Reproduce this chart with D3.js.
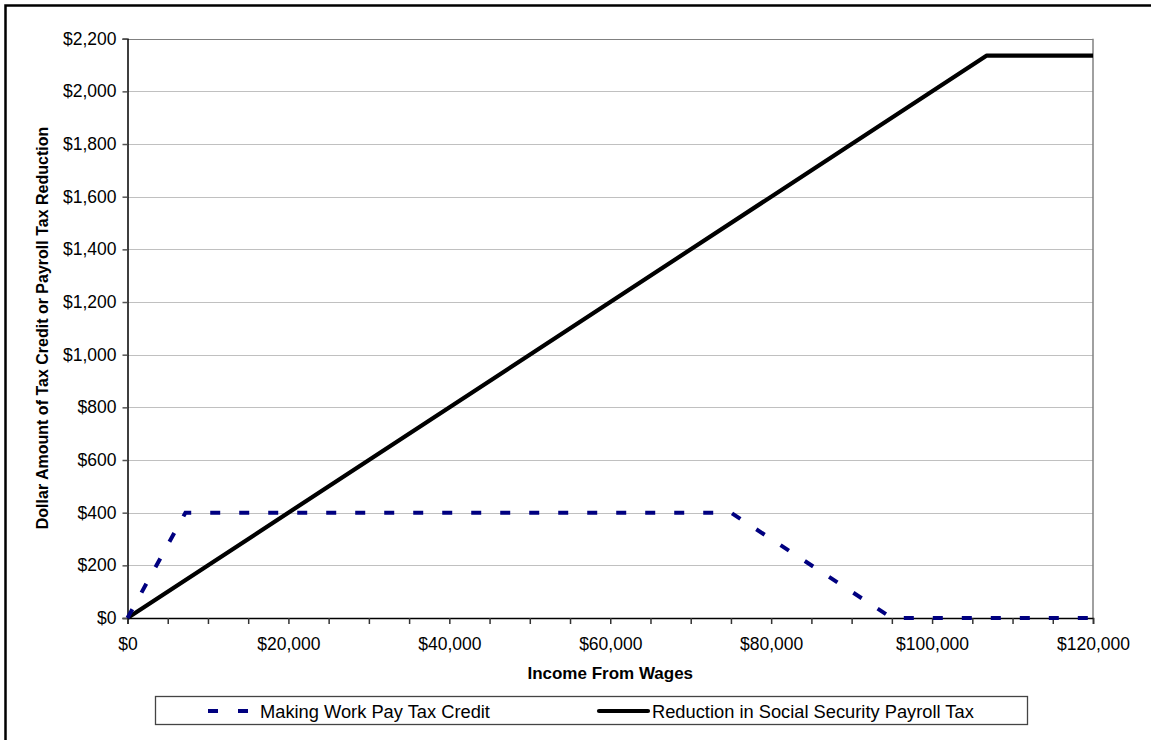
<!DOCTYPE html>
<html><head><meta charset="utf-8">
<script src="https://cdn.jsdelivr.net/npm/d3@7"></script>
<style>body{margin:0;background:#fff}svg{display:block;font-family:"Liberation Sans",Arial,sans-serif}</style>
</head><body>
<svg id="c" width="1151" height="740"></svg>
<script>
const creditIncome = [0, 7200, 75000, 95000, 120000];
const creditValue  = [0, 400, 400, 0, 0];
const payrollIncome = [0, 106800, 120000];
const payrollValue  = [0, 2136, 2136];
const xTicksMajor = [0, 20000, 40000, 60000, 80000, 100000, 120000];
const yTicks = [0, 200, 400, 600, 800, 1000, 1200, 1400, 1600, 1800, 2000, 2200];
const seriesNames = ["Making Work Pay Tax Credit", "Reduction in Social Security Payroll Tax"];

const svg = d3.select("#c");
const L = 127.5, R = 1093, T = 38.7, B = 618;
const x = d3.scaleLinear().domain([0, 120000]).range([L, R]);
const y = d3.scaleLinear().domain([0, 2200]).range([B, T]);
const fmt = d => "$" + d3.format(",")(d);
const FF = "Liberation Sans, Arial, sans-serif";

// outer frame
svg.append("path").attr("d", "M5.5,745 L5.5,5.5 L1160,5.5").attr("fill","none").attr("stroke","#000").attr("stroke-width",2.5);

// gridlines
svg.append("g").selectAll("line").data(yTicks.filter(d=>d>0)).join("line")
  .attr("x1", L).attr("x2", R).attr("y1", d=>Math.round(y(d))+0.5).attr("y2", d=>Math.round(y(d))+0.5)
  .attr("stroke", d=> d===2200 ? "#808080" : "#c0c0c0").attr("stroke-width",1.2);
// right border
svg.append("line").attr("x1",R).attr("x2",R).attr("y1",T).attr("y2",B).attr("stroke","#808080").attr("stroke-width",1.5);

// y axis
const ya = d3.axisLeft(y).tickValues(yTicks).tickFormat(fmt).tickSize(5).tickPadding(6);
const gy = svg.append("g").attr("transform", `translate(${L},0)`).call(ya);
gy.select(".domain").attr("stroke","#000").attr("stroke-width",1.5);
gy.selectAll(".tick line").attr("stroke","#555").attr("stroke-width",1.5);
gy.selectAll("text").attr("font-size",17.5).attr("fill","#000").attr("font-family",FF);

// x axis
const xa = d3.axisBottom(x).tickValues(d3.range(0, 120001, 5000)).tickFormat(d => xTicksMajor.includes(d) ? fmt(d) : "").tickSize(6).tickPadding(14);
const gx = svg.append("g").attr("transform", `translate(0,${B})`).call(xa);
gx.select(".domain").attr("stroke","#000").attr("stroke-width",1.5);
gx.selectAll(".tick line").attr("stroke","#333").attr("stroke-width",1.5);
gx.selectAll("text").attr("font-size",17.5).attr("fill","#000").attr("font-family",FF);

// axis titles
svg.append("text").attr("x",(L+R)/2).attr("y",679).attr("text-anchor","middle").attr("font-size",17).attr("font-weight","bold").text("Income From Wages");
svg.append("text").attr("transform",`translate(48,328) rotate(-90)`).attr("text-anchor","middle").attr("font-size",16).attr("font-weight","bold").text("Dollar Amount of Tax Credit or Payroll Tax Reduction");

// lines
const line = d3.line().x(d=>x(d[0])).y(d=>y(d[1]));
const payroll = payrollIncome.map((v,i)=>[v, payrollValue[i]]);
const credit = creditIncome.map((v,i)=>[v, creditValue[i]]);
svg.append("path").datum(payroll).attr("d", line).attr("fill","none").attr("stroke","#000").attr("stroke-width",4.2).attr("stroke-linejoin","round");
svg.append("path").datum(credit).attr("d", line).attr("fill","none").attr("stroke","#000080").attr("stroke-width",4).attr("stroke-dasharray","10,19");

// legend
const lg = svg.append("g");
lg.append("rect").attr("x",155.5).attr("y",696.5).attr("width",872).attr("height",28).attr("fill","#fff").attr("stroke","#444").attr("stroke-width",1.3);
lg.append("line").attr("x1",208).attr("x2",248).attr("y1",711).attr("y2",711).attr("stroke","#000080").attr("stroke-width",4).attr("stroke-dasharray","10,20");
lg.append("text").attr("x",260).attr("y",718).attr("font-size",18.3).text(seriesNames[0]);
lg.append("line").attr("x1",599).attr("x2",648).attr("y1",711).attr("y2",711).attr("stroke","#000").attr("stroke-width",4.2).attr("stroke-linecap","round");
lg.append("text").attr("x",652).attr("y",718).attr("font-size",18.3).text(seriesNames[1]);
</script>
</body></html>
